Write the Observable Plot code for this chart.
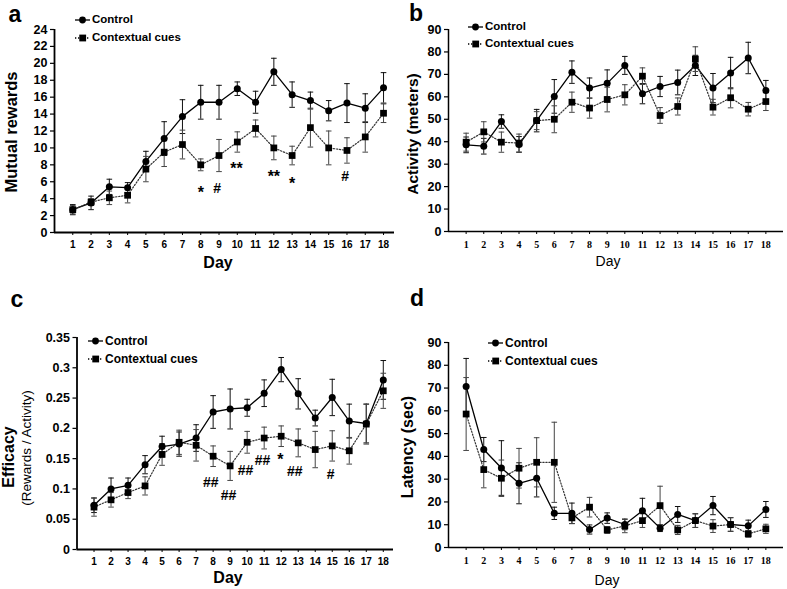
<!DOCTYPE html>
<html><head><meta charset="utf-8">
<script src="https://cdn.jsdelivr.net/npm/d3@7"></script>
<script src="https://cdn.jsdelivr.net/npm/@observablehq/plot@0.6"></script>
<style>
body{margin:0;background:#fff;font-family:"Liberation Sans",Arial,sans-serif;}
#wrap{position:relative;width:787px;height:589px;overflow:hidden;background:#fff;}
.panel{position:absolute;}
.t{position:absolute;white-space:nowrap;color:#000;line-height:1;}
</style></head>
<body><div id="wrap"></div>
<script>
// ---------------- data ----------------
const days = [1,2,3,4,5,6,7,8,9,10,11,12,13,14,15,16,17,18];
const seriesNames = ["Control", "Contextual cues"];

// a: Mutual rewards
const rewardsControl    = [2.7,3.5,5.4,5.3,8.4,11.1,13.7,15.4,15.4,17.0,15.4,19.0,16.3,15.6,14.4,15.3,14.7,17.1];
const rewardsControlErr = [0.6,0.8,0.9,0.6,1.2,2.0,2.0,2.0,2.0,0.8,1.3,1.6,1.5,1.0,1.2,2.3,1.7,1.8];
const rewardsCues       = [2.7,3.6,4.1,4.4,7.5,9.5,10.4,8.0,9.1,10.7,12.3,10.0,9.1,12.4,10.0,9.7,11.3,14.1];
const rewardsCuesErr    = [0.5,0.4,0.8,0.9,1.5,1.7,1.7,0.7,1.9,1.2,1.0,1.4,1.1,2.3,2.0,1.5,1.8,1.1];
const rewardsTicks = [0,2,4,6,8,10,12,14,16,18,20,22,24];
const rewardsMarks = ["*","#","**","**","*","#"];
const rewardsMarkDay = [8,8.9,9.95,12,13,15.9];
const rewardsMarkY = [5.3,5.2,8.1,7.2,6.3,6.6];

// b: Activity (meters)
const activityControl    = [38.6,38.0,49.0,38.8,49.4,60.2,71.0,63.9,66.0,74.0,61.4,64.6,66.4,74.0,63.9,70.6,77.3,62.8];
const activityControlErr = [3.5,3.5,3.0,3.5,5.0,7.5,5.0,4.5,6.0,4.0,4.5,4.5,5.5,4.5,6.5,7.0,7.0,4.5];
const activityCues       = [39.8,44.4,39.8,39.4,49.4,50.0,57.6,55.0,58.8,60.9,69.2,51.7,55.7,76.8,55.4,59.6,54.5,57.9];
const activityCuesErr    = [4.0,4.5,4.5,4.0,4.0,6.0,4.5,4.5,5.5,4.5,3.7,3.5,3.8,5.5,3.5,4.5,3.0,4.0];
const activityTicks = [0,10,20,30,40,50,60,70,80,90];

// c: Efficacy (Rewards / Activity)
const efficacyControl    = [0.073,0.100,0.106,0.140,0.170,0.174,0.184,0.227,0.232,0.234,0.258,0.297,0.257,0.217,0.251,0.212,0.208,0.280];
const efficacyControlErr = [0.012,0.018,0.012,0.015,0.017,0.020,0.022,0.027,0.033,0.014,0.022,0.020,0.025,0.013,0.030,0.028,0.032,0.032];
const efficacyCues       = [0.070,0.082,0.094,0.105,0.157,0.177,0.172,0.154,0.138,0.177,0.184,0.187,0.176,0.165,0.171,0.163,0.207,0.262];
const efficacyCuesErr    = [0.015,0.012,0.010,0.015,0.018,0.020,0.026,0.017,0.024,0.018,0.018,0.017,0.023,0.030,0.025,0.022,0.033,0.029];
const efficacyTicks = [0,0.05,0.1,0.15,0.2,0.25,0.3,0.35];
const efficacyMarks = ["##","##","##","##","*","##","#"];
const efficacyMarkDay = [7.86,8.9,9.9,10.9,11.95,12.8,14.9];
const efficacyMarkY = [0.111,0.089,0.131,0.147,0.157,0.128,0.123];

// d: Latency (sec)
const latencyControl    = [70.7,43.0,34.9,28.2,30.4,15.0,15.0,7.9,12.9,10.1,16.1,8.5,14.5,11.8,18.4,10.1,9.5,16.7];
const latencyControlErr = [12.3,5.3,12.0,9.0,8.2,2.7,4.5,2.0,2.3,2.3,5.5,1.5,3.5,3.0,4.0,3.0,2.5,3.5];
const latencyCues       = [58.6,34.2,30.4,34.8,37.4,37.4,13.0,17.7,7.7,9.5,11.8,18.4,7.7,11.8,9.4,10.1,6.0,8.2];
const latencyCuesErr    = [16.0,8.0,8.0,8.7,10.8,17.6,2.5,4.3,1.5,3.0,3.0,8.5,2.0,3.0,2.8,3.0,1.5,2.0];
const latencyTicks = [0,10,20,30,40,50,60,70,80,90];

// ---------------- drawing ----------------
const wrap = document.getElementById("wrap");
const capSymbol = {draw(ctx, size){const r = Math.sqrt(size/Math.PI); ctx.moveTo(-r,0); ctx.lineTo(r,0);}};

function rows(v, e){ return days.map((d,i)=>({day:d, v:v[i], e:e[i]})); }

function panel(cfg){
  const ctrl = rows(cfg.ctrl, cfg.ctrlErr);
  const cues = rows(cfg.cues, cfg.cuesErr);
  const marks = [];
  const errMarks = (data, color) => [
    Plot.ruleX(data, {x:"day", y1:d=>d.v-d.e, y2:d=>d.v+d.e, stroke:color, strokeWidth:1}),
    Plot.dot(data, {x:"day", y:d=>d.v+d.e, symbol:capSymbol, r:2.8, stroke:color, strokeWidth:1, fill:"none"}),
    Plot.dot(data, {x:"day", y:d=>d.v-d.e, symbol:capSymbol, r:2.8, stroke:color, strokeWidth:1, fill:"none"})
  ];
  marks.push(
    Plot.axisY({ticks:cfg.yTicks, tickSize:4, tickPadding:3, fontSize:cfg.yFont, fontWeight:"bold", tickFormat:d=>String(d), label:null, strokeWidth:1.2}),
    Plot.axisX({ticks:days, tickSize:3, tickPadding:cfg.xPad, fontSize:cfg.xFont, fontWeight:"bold", fontFamily:cfg.xFamily, tickFormat:d=>String(d), label:null}),
    Plot.ruleX([0], {strokeWidth:cfg.axisW}),
    Plot.ruleY([0], {strokeWidth:cfg.axisW}),
    ...errMarks(ctrl, "#111"),
    ...errMarks(cues, "#444"),
    Plot.line(ctrl, {x:"day", y:"v", stroke:"#000", strokeWidth:1.3}),
    Plot.line(cues, {x:"day", y:"v", stroke:"#333", strokeWidth:1.2, strokeDasharray:"1.3,1.7"}),
    Plot.dot(ctrl, {x:"day", y:"v", r:3.5, fill:"#000", stroke:"none"}),
    Plot.dot(cues, {x:"day", y:"v", r:3.8, symbol:"square", fill:"#000", stroke:"none"})
  );
  if (cfg.notes){
    const notes = cfg.notes.text.map((t,i)=>({t, day:cfg.notes.day[i], y:cfg.notes.y[i]}));
    marks.push(
      Plot.text(notes.filter(n=>n.t.includes("*")), {x:"day", y:"y", text:"t", fontSize:16, fontWeight:"bold", dy:5}),
      Plot.text(notes.filter(n=>n.t.includes("#")), {x:"day", y:"y", text:"t", fontSize:14, fontWeight:"bold"})
    );
  }
  const svg = Plot.plot({
    width:cfg.w, height:cfg.h,
    marginLeft:cfg.ml, marginRight:cfg.mr, marginTop:cfg.mt, marginBottom:cfg.mb,
    x:{domain:[0,cfg.xMax], axis:null},
    y:{domain:[0, cfg.yMax], axis:null},
    style:{fontFamily:'"Liberation Sans", Arial, sans-serif', color:"#000", background:"transparent"},
    marks
  });
  const div = document.createElement("div");
  div.className = "panel";
  div.style.left = cfg.left+"px"; div.style.top = cfg.top+"px";
  div.appendChild(svg);
  wrap.appendChild(div);
}

function text(str, x, y, css, rotate){
  const el = document.createElement("div");
  el.className = "t";
  el.textContent = str;
  Object.assign(el.style, css);
  el.style.left = x+"px"; el.style.top = y+"px";
  el.style.transform = "translate(-50%,-50%)" + (rotate ? " rotate(-90deg)" : "");
  wrap.appendChild(el);
}

function legend(x, y1, y2, fontSize){
  const mk = (yy, dotted, name) => {
    const el = document.createElement("div");
    el.className = "t";
    el.style.left = x+"px"; el.style.top = (yy-8)+"px";
    el.style.height = "16px"; el.style.display = "flex"; el.style.alignItems = "center";
    const sym = dotted
      ? '<rect x="5.3" y="4.6" width="6.8" height="6.8" fill="#000"/>'
      : '<circle cx="8.5" cy="8" r="3.4" fill="#000"/>';
    el.innerHTML = '<svg width="17" height="16" style="display:block"><line x1="1" x2="16" y1="8" y2="8" stroke="#000" stroke-width="1.3"' +
      (dotted ? ' stroke-dasharray="1.3,1.7"' : '') + '/>' + sym + '</svg>' +
      '<span style="font-weight:bold;font-size:'+fontSize+'px;margin-left:1px">'+name+'</span>';
    wrap.appendChild(el);
  };
  mk(y1, false, seriesNames[0]);
  mk(y2, true, seriesNames[1]);
}

// panel a
panel({left:0, top:0, w:400, h:290, ml:54, mr:6, mt:29, mb:58, xMax:18.6, yMax:24,
  ctrl:rewardsControl, ctrlErr:rewardsControlErr, cues:rewardsCues, cuesErr:rewardsCuesErr,
  yTicks:rewardsTicks, yFont:12.5, xFont:10, xPad:5, xFamily:'"Liberation Sans", Arial, sans-serif', axisW:1.8,
  notes:{text:rewardsMarks, day:rewardsMarkDay, y:rewardsMarkY}});
// panel b
panel({left:393, top:0, w:394, h:290, ml:55, mr:4, mt:29, mb:59, xMax:19, yMax:90,
  ctrl:activityControl, ctrlErr:activityControlErr, cues:activityCues, cuesErr:activityCuesErr,
  yTicks:activityTicks, yFont:12.5, xFont:10, xPad:6, xFamily:'"Liberation Serif", "Times New Roman", serif', axisW:1.5});
// panel c
panel({left:0, top:290, w:400, h:299, ml:76.5, mr:7, mt:47, mb:40, xMax:18.6, yMax:0.35,
  ctrl:efficacyControl, ctrlErr:efficacyControlErr, cues:efficacyCues, cuesErr:efficacyCuesErr,
  yTicks:efficacyTicks, yFont:12.5, xFont:10, xPad:5, xFamily:'"Liberation Sans", Arial, sans-serif', axisW:1.8,
  notes:{text:efficacyMarks, day:efficacyMarkDay, y:efficacyMarkY}});
// panel d
panel({left:393, top:290, w:394, h:299, ml:55, mr:4, mt:52, mb:42, xMax:19, yMax:90,
  ctrl:latencyControl, ctrlErr:latencyControlErr, cues:latencyCues, cuesErr:latencyCuesErr,
  yTicks:latencyTicks, yFont:12.5, xFont:10, xPad:6, xFamily:'"Liberation Serif", "Times New Roman", serif', axisW:1.5});

// panel letters
const letterCss = {fontSize:"23px", fontWeight:"bold"};
text("a", 15, 14, letterCss);
text("b", 416, 13, letterCss);
text("c", 17, 299, letterCss);
text("d", 417, 298, letterCss);

// axis titles
text("Mutual rewards", 11, 132, {fontSize:"16.5px", fontWeight:"bold"}, true);
text("Day", 218, 263, {fontSize:"16px", fontWeight:"bold"});
text("Activity (meters)", 413, 134, {fontSize:"15.5px", fontWeight:"bold"}, true);
text("Day", 608, 261, {fontSize:"14px"});
text("Efficacy", 9, 457, {fontSize:"16px", fontWeight:"bold"}, true);
text("(Rewards / Activity)", 27, 448, {fontSize:"13.5px"}, true);
text("Day", 228, 578, {fontSize:"16px", fontWeight:"bold"});
text("Latency (sec)", 408, 447, {fontSize:"16px", fontWeight:"bold"}, true);
text("Day", 607, 580, {fontSize:"14px"});

// legends
legend(74, 20, 38, 11.5);
legend(467, 27, 44, 11.5);
legend(87, 341, 359, 12);
legend(487, 343, 361, 12);
</script></body></html>
